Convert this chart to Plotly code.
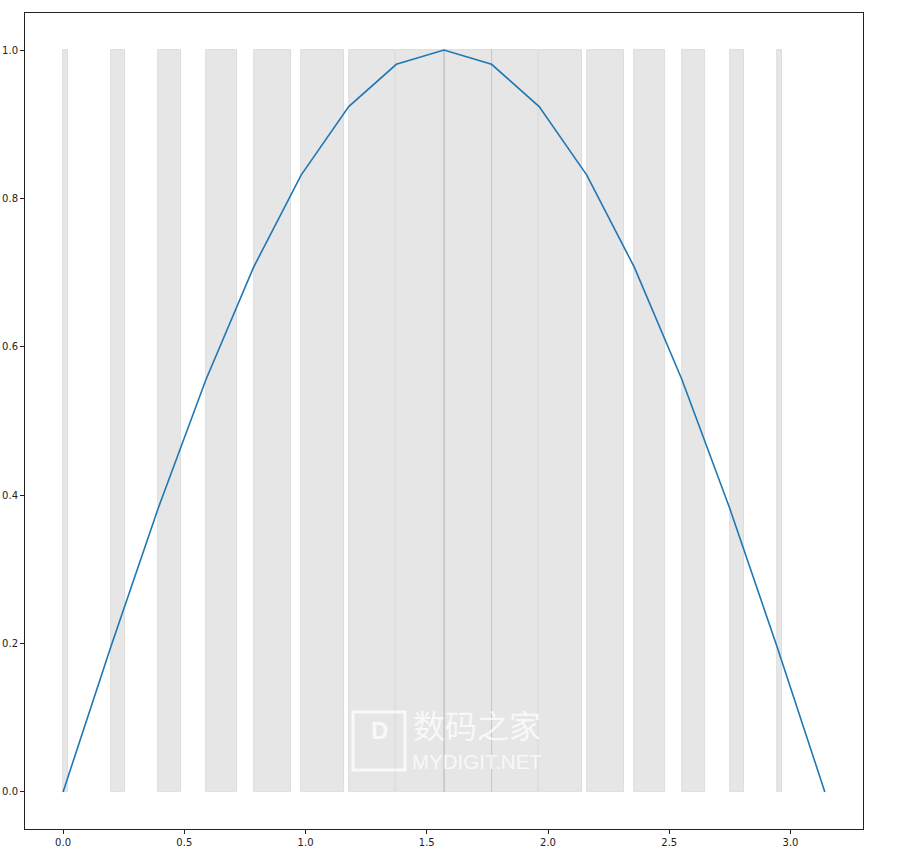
import plotly.graph_objects as go

# Line data (sin curve sampled at 17 points)
line_x = [0.0, 0.19635, 0.39270, 0.58905, 0.78540, 0.98175, 1.17810, 1.37445,
          1.57080, 1.76715, 1.96350, 2.15984, 2.35619, 2.55254, 2.74889, 2.94524, 3.14159]
line_y = [0.0, 0.19509, 0.38268, 0.55557, 0.70711, 0.83147, 0.92388, 0.98079,
          1.0, 0.98079, 0.92388, 0.83147, 0.70711, 0.55557, 0.38268, 0.19509, 0.0]

# Bars: left edges, heights, widths
bar_left = [0.0, 0.19635, 0.39270, 0.58905, 0.78540, 0.98175, 1.17810, 1.37445,
            1.57080, 1.76715, 1.96350, 2.15984, 2.35619, 2.55254, 2.74889, 2.94524]
bar_height = [1.0] * 16
bar_width = [0.0196, 0.0581, 0.0943, 0.1269, 0.1546, 0.1764, 0.1914, 0.1990,
             0.1990, 0.1914, 0.1764, 0.1546, 0.1269, 0.0943, 0.0581, 0.0196]

x_ticks = [0.0, 0.5, 1.0, 1.5, 2.0, 2.5, 3.0]
y_ticks = [0.0, 0.2, 0.4, 0.6, 0.8, 1.0]

fig = go.Figure()
fig.add_trace(go.Bar(
    x=bar_left, y=bar_height, width=bar_width, offset=0,
    marker=dict(color="rgba(128,128,128,0.2)",
                line=dict(color="rgba(128,128,128,0.22)", width=0.8)),
    showlegend=False, hoverinfo="skip",
))
fig.add_trace(go.Scatter(
    x=line_x, y=line_y, mode="lines",
    line=dict(color="#1f77b4", width=1.6),
    showlegend=False,
))

axis_common = dict(
    showgrid=False, zeroline=False, showline=True, mirror=True,
    linecolor="#222", linewidth=1, automargin=False,
    ticks="outside", ticklen=4, tickwidth=1, tickcolor="#222",
    tickfont=dict(family="DejaVu Sans", size=10, color="#222"),
)

fig.update_layout(
    width=898, height=860,
    margin=dict(l=25, r=35, t=13, b=31, autoexpand=False),
    paper_bgcolor="white", plot_bgcolor="white",
    bargap=0,
    xaxis=dict(range=[-0.157, 3.299], tickvals=x_ticks,
               ticktext=[f"{v:.1f}" for v in x_ticks], **axis_common),
    yaxis=dict(range=[-0.05, 1.05], tickvals=y_ticks,
               ticktext=[f"{v:.1f}" for v in y_ticks], **axis_common),
)

# Site watermark
wm = "rgba(255,255,255,0.75)"
fig.add_annotation(xref="paper", yref="paper", x=0.539, y=0.098, text="数码之家",
                   showarrow=False, font=dict(family="Noto Sans CJK SC", size=32, color=wm))
fig.add_annotation(xref="paper", yref="paper", x=0.539, y=0.066, text="MYDIGIT.NET",
                   showarrow=False, font=dict(family="Liberation Sans", size=20.5, color=wm))
fig.add_annotation(xref="paper", yref="paper", x=0.4225, y=0.102, text="<b>D</b>",
                   showarrow=False, font=dict(family="Liberation Sans", size=24, color=wm))
fig.add_shape(type="rect", xref="paper", yref="paper",
              x0=(353 - 25) / 838, x1=(405 - 25) / 838,
              y0=(829 - 770) / 816, y1=(829 - 712) / 816,
              line=dict(color=wm, width=3))

fig.write_html("out.html", config={"displayModeBar": False},
               post_script="document.body.style.margin='0';document.body.style.padding='0';")
